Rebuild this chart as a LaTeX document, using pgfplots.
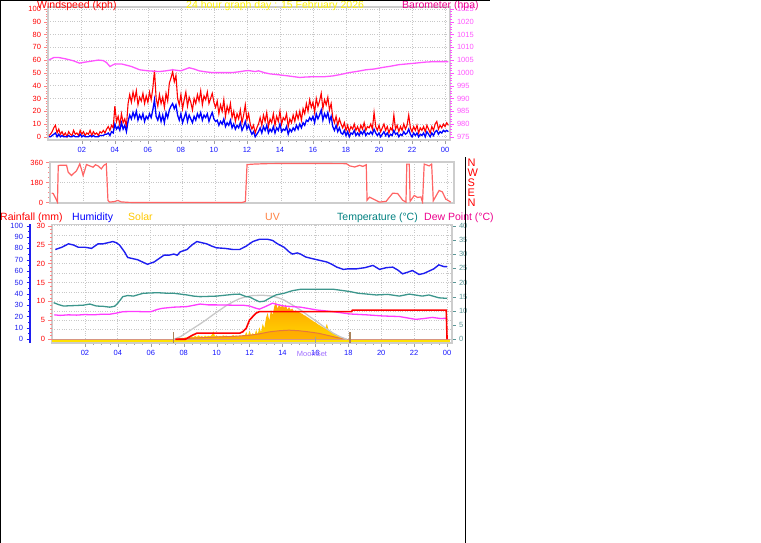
\documentclass[border=0pt]{standalone}
\usepackage{fontspec}
\setmainfont{Liberation Sans}
\usepackage{pgfplots}
\usepackage{pgfplotstable}
\pgfplotsset{compat=1.18}

\definecolor{framegray}{RGB}{205,205,205}
\definecolor{gridgray}{RGB}{200,200,200}
\definecolor{axisgray}{RGB}{160,160,160}
\definecolor{baro}{RGB}{255,85,255}
\definecolor{hourblue}{RGB}{20,20,255}
\definecolor{dirred}{RGB}{255,100,100}
\definecolor{salmon}{RGB}{255,130,130}
\definecolor{tealline}{RGB}{60,150,140}
\definecolor{teallabel}{RGB}{0,128,128}
\definecolor{tempaxis}{RGB}{90,150,150}
\definecolor{dewmag}{RGB}{255,60,255}
\definecolor{humblue}{RGB}{30,30,240}
\definecolor{solarmax}{RGB}{200,200,200}
\definecolor{solartop}{RGB}{255,160,0}
\definecolor{solarbot}{RGB}{255,215,0}
\definecolor{uvline}{RGB}{230,120,60}
\definecolor{uvlabel}{RGB}{255,128,64}
\definecolor{solarlabel}{RGB}{255,200,0}
\definecolor{sunmark}{RGB}{170,130,90}
\definecolor{zeroband}{RGB}{215,150,130}
\definecolor{yellowband}{RGB}{255,225,0}
\definecolor{moonviolet}{RGB}{160,110,255}

\newcommand\tickfont{\fontsize{7.5}{8}\selectfont}
\newcommand\headfont{\fontsize{10.5}{12}\selectfont}

\pgfplotsset{
  every axis/.append style={
    scale only axis,
    /pgf/number format/assume math mode=true,
    /pgf/number format/1000 sep={},
    tick label style={font=\tickfont},
    tick align=outside,
    major tick length=3.5pt,
    minor tick length=2pt,
  },
}

\pgfplotstableread{
h r b
0.0 1 0
0.1 2 0
0.2 4 1
0.3 7 2
0.4 9 3
0.5 3 0
0.6 6 2
0.7 2 0
0.8 4 1
0.9 1 0
1.0 3 0
1.1 0 0
1.2 4 1
1.3 2 0
1.4 1 0
1.5 5 1
1.6 2 0
1.7 3 0
1.8 1 0
1.9 5 2
2.0 2 0
2.1 4 1
2.2 1 0
2.3 3 0
2.4 2 0
2.5 5 1
2.6 1 0
2.7 4 1
2.8 2 0
2.9 3 0
3.0 1 0
3.1 4 1
3.2 3 1
3.3 5 1
3.4 3 2
3.5 6 2
3.6 8 3
3.7 5 1
3.8 9 4
3.9 7 3
4.0 24 10
4.1 12 6
4.2 16 8
4.3 9 5
4.4 18 11
4.5 11 6
4.6 14 9
4.7 8 4
4.8 26 12
4.9 33 17
5.0 27 14
5.1 35 19
5.2 29 15
5.3 36 20
5.4 25 13
5.5 31 17
5.6 28 14
5.7 34 18
5.8 26 12
5.9 32 16
6.0 27 14
6.1 35 18
6.2 29 15
6.3 38 21
6.4 52 29
6.5 30 16
6.6 24 13
6.7 33 18
6.8 26 12
6.9 31 17
7.0 23 11
7.1 34 19
7.2 28 15
7.3 42 21
7.4 46 24
7.5 51 26
7.6 43 22
7.7 48 25
7.8 30 17
7.9 25 13
8.0 33 18
8.1 22 11
8.2 29 15
8.3 35 19
8.4 24 12
8.5 31 17
8.6 27 14
8.7 21 11
8.8 30 16
8.9 26 13
9.0 33 18
9.1 28 15
9.2 36 19
9.3 25 13
9.4 32 17
9.5 29 15
9.6 35 18
9.7 26 12
9.8 30 16
9.9 34 19
10.0 27 14
10.1 23 12
10.2 28 13
10.3 18 9
10.4 25 12
10.5 20 10
10.6 29 14
10.7 16 8
10.8 24 11
10.9 19 9
11.0 26 13
11.1 15 7
11.2 20 10
11.3 12 6
11.4 18 9
11.5 14 7
11.6 21 11
11.7 11 5
11.8 17 8
11.9 25 12
12.0 13 6
12.1 18 9
12.2 10 5
12.3 6 2
12.4 9 4
12.5 3 0
12.6 7 2
12.7 10 4
12.8 15 7
12.9 9 3
13.0 17 8
13.1 12 5
13.2 19 9
13.3 8 3
13.4 14 6
13.5 11 4
13.6 18 8
13.7 9 3
13.8 16 7
13.9 12 5
14.0 20 10
14.1 10 4
14.2 15 6
14.3 13 5
14.4 18 8
14.5 8 2
14.6 14 6
14.7 11 4
14.8 17 7
14.9 12 5
15.0 19 9
15.1 14 6
15.2 20 10
15.3 13 7
15.4 22 11
15.5 18 9
15.6 26 13
15.7 20 12
15.8 29 15
15.9 23 13
16.0 27 16
16.1 19 11
16.2 30 18
16.3 24 14
16.4 28 17
16.5 34 21
16.6 22 13
16.7 29 18
16.8 25 15
16.9 31 19
17.0 21 12
17.1 26 16
17.2 15 8
17.3 11 5
17.4 16 9
17.5 9 4
17.6 14 7
17.7 10 3
17.8 7 2
17.9 11 5
18.0 5 1
18.1 9 4
18.2 4 0
18.3 8 3
18.4 6 2
18.5 10 5
18.6 5 1
18.7 8 3
18.8 4 1
18.9 9 4
19.0 6 2
19.1 11 5
19.2 5 1
19.3 8 3
19.4 7 2
19.5 10 4
19.6 6 2
19.7 19 6
19.8 8 3
19.9 5 1
20.0 9 3
20.1 4 0
20.2 7 2
20.3 10 4
20.4 5 1
20.5 8 3
20.6 3 0
20.7 7 2
20.8 5 1
20.9 17 5
21.0 6 2
21.1 9 3
21.2 4 0
21.3 8 2
21.4 5 1
21.5 10 4
21.6 6 2
21.7 9 3
21.8 17 6
21.9 7 2
22.0 4 0
22.1 8 3
22.2 5 1
22.3 9 3
22.4 3 0
22.5 7 2
22.6 5 1
22.7 8 3
22.8 4 0
22.9 9 4
23.0 6 2
23.1 3 0
23.2 8 3
23.3 5 1
23.4 10 4
23.5 12 5
23.6 6 2
23.7 9 4
23.8 7 3
23.9 10 5
24.0 8 4
24.1 11 5
24.2 9 4
}\windtable

\pgfplotstableread{
h s
7.5 0
7.6 0.2
7.7 0.4
7.8 0.3
7.9 0.5
8.0 0.4
8.1 0.7
8.2 0.5
8.3 0.8
8.4 0.6
8.5 1.0
8.6 0.7
8.7 1.2
8.8 0.8
8.9 1.4
9.0 0.9
9.1 1.1
9.2 0.8
9.3 1.3
9.4 0.9
9.5 1.2
9.6 1.0
9.7 1.5
9.8 2.8
9.9 1.1
10.0 1.3
10.1 0.9
10.2 1.2
10.3 1.0
10.4 1.4
10.5 1.1
10.6 1.3
10.7 0.9
10.8 1.2
10.9 1.0
11.0 1.5
11.1 1.1
11.2 1.3
11.3 0.9
11.4 1.2
11.5 1.0
11.6 1.4
11.7 1.1
11.8 2.6
11.9 1.2
12.0 3.0
12.1 1.4
12.2 2.2
12.3 1.3
12.4 3.3
12.5 1.8
12.6 4.2
12.7 2.5
12.8 5.5
12.9 3.8
13.0 7.5
13.1 9.3
13.2 6.5
13.3 10.3
13.4 8.5
13.5 11.5
13.6 13.2
13.7 10.8
13.8 12.4
13.9 11.2
14.0 12.0
14.1 11.0
14.2 12.2
14.3 10.5
14.4 11.3
14.5 10.4
14.6 10.8
14.7 9.8
14.8 10.2
14.9 9.6
15.0 9.6
15.1 9.2
15.2 9.0
15.3 8.5
15.4 8.3
15.5 7.8
15.6 7.5
15.7 7.0
15.8 6.7
15.9 6.2
16.0 6.0
16.1 5.5
16.2 5.1
16.3 4.8
16.4 4.4
16.5 4.1
16.6 3.7
16.7 5.5
16.8 3.2
16.9 2.9
17.0 2.4
17.1 2.0
17.2 1.7
17.3 1.4
17.4 1.1
17.5 0.8
17.6 0.6
17.7 0.4
17.8 0.2
17.9 0
}\solartable

\begin{document}
\begin{tikzpicture}[x=1pt,y=1pt]
\useasboundingbox (0,0) rectangle (761,-543);

%================ TOP PANEL: wind speed ================
\begin{axis}[
  at={(48pt,-140pt)}, anchor=south west, width=402pt, height=133pt,
  xmin=-0.05, xmax=24.3, ymin=-2.5, ymax=101.5,
  axis line style={draw=framegray, line width=1.5pt},
  xtick={2,4,...,24}, xticklabels={02,04,06,08,10,12,14,16,18,20,22,00},
  minor x tick num=3,
  ytick={0,10,...,100}, minor y tick num=4,
  xtick pos=bottom, ytick pos=left,
  xticklabel style={text=hourblue},
  yticklabel style={text=red},
  xtick style={draw=axisgray},
  ytick style={draw=salmon},
  grid=major, grid style={dotted, draw=gridgray, line width=0.7pt},
]
\addplot[red, line width=1.1pt] table[x=h,y=r]{\windtable};
\addplot[blue, line width=1.3pt] table[x=h,y=b]{\windtable};
\end{axis}

\begin{axis}[
  at={(48pt,-140pt)}, anchor=south west, width=402pt, height=133pt,
  xmin=-0.05, xmax=24.3, ymin=973.75, ymax=1025.75,
  axis x line=none, axis y line*=right,
  y axis line style={draw=none},
  ytick={975,980,...,1025}, minor y tick num=4,
  yticklabel style={text=baro},
  ytick style={draw=baro},
]
\addplot[baro, line width=1.3pt] coordinates {
(0.0,1005.0)(0.3,1006.0)(0.6,1006.0)(1.0,1005.5)(1.5,1004.7)(1.85,1003.8)
(2.2,1004.2)(2.5,1004.5)(3.0,1005.0)(3.3,1004.8)(3.5,1004.0)(3.7,1002.5)
(4.0,1003.5)(4.4,1003.5)(4.7,1003.0)(5.0,1002.5)(5.5,1001.2)(6.0,1000.8)
(6.7,1000.5)(7.1,1000.8)(7.5,1001.2)(8.0,1000.8)(8.5,1002.0)(8.8,1001.5)
(9.1,1000.8)(9.5,1000.4)(9.9,1000.1)(10.5,1000.1)(11.1,1000.1)(11.5,1000.4)
(11.9,1000.8)(12.1,1000.9)(12.5,1000.5)(12.7,1000.8)(13.1,1000.0)(13.4,999.6)
(14.0,999.2)(14.5,998.8)(15.2,998.2)(15.6,998.4)(16.2,998.5)(16.7,998.5)
(17.2,998.8)(17.7,999.4)(18.2,1000.1)(18.7,1000.6)(19.2,1001.2)(19.7,1001.5)
(20.2,1002.1)(20.7,1002.6)(21.2,1003.2)(21.7,1003.5)(22.2,1003.8)(22.8,1004.2)
(23.4,1004.4)(24.0,1004.4)(24.2,1004.4)};
\end{axis}

%================ WIND DIRECTION PANEL ================
\begin{axis}[
  at={(50pt,-203pt)}, anchor=south west, width=404pt, height=41pt,
  xmin=0, xmax=24.4, ymin=-5, ymax=365,
  axis line style={draw=framegray, line width=1.5pt},
  xtick={2,4,...,24}, xticklabels={},
  major x tick style={draw=none}, 
  ytick={0,180,360}, minor y tick num=3,
  ytick pos=left,
  yticklabel style={text=red},
  ytick style={draw=salmon},
  grid=major, grid style={dotted, draw=gridgray, line width=0.7pt},
]
\addplot[dirred, line width=1.2pt] coordinates {
(0.1,84)(0.2,80)(0.45,3)(0.5,333)(0.6,335)(1.0,336)(1.1,273)(1.3,243)(1.45,265)
(1.6,285)(1.8,348)(1.9,300)(2.0,243)(2.1,290)(2.2,342)(2.4,330)(2.6,318)(2.75,340)
(2.9,330)(3.1,303)(3.25,335)(3.4,348)(3.5,18)(3.6,3)(3.9,8)(4.1,18)(4.3,5)(4.5,3)
(4.7,1)(5.0,0)(11.6,0)(11.8,8)(11.9,342)(12.3,346)(13,350)(15,352)(17.9,350)
(18.1,330)(18.4,320)(18.7,335)(18.9,325)(19.1,340)(19.15,20)(19.3,48)(19.6,25)
(19.9,3)(20.3,10)(20.7,84)(21.0,80)(21.3,20)(21.5,3)(21.55,346)(21.7,346)(21.75,10)
(22.0,63)(22.2,45)(22.4,50)(22.5,3)(22.6,346)(22.9,330)(23.05,346)(23.15,15)
(23.5,108)(23.7,95)(23.9,30)(24.05,18)(24.2,3)};
\end{axis}

\begin{axis}[
  at={(50pt,-203pt)}, anchor=south west, width=404pt, height=41pt,
  xmin=0, xmax=24.4, ymin=-5, ymax=365,
  axis x line=none, axis y line*=right,
  y axis line style={draw=none},
  ytick={0,90,180,270,360}, yticklabels={N,E,S,W,N},
  major tick length=0pt,
  yticklabel style={text=red, font=\fontsize{11}{11}\selectfont, xshift=10pt},
]
\addplot[draw=none] coordinates {(0,0)};
\end{axis}

%================ BOTTOM PANEL ================
\begin{axis}[
  at={(52pt,-343pt)}, anchor=south west, width=400pt, height=118.7pt,
  xmin=0, xmax=24.3, ymin=-1.32, ymax=40.48,
  axis line style={draw=framegray, line width=1.5pt},
  xtick={2,4,...,24}, xticklabels={02,04,06,08,10,12,14,16,18,20,22,00},
  minor x tick num=3,
  ytick={0,5,...,40},
  xtick pos=bottom, ytick pos=right,
  xticklabel style={text=hourblue},
  yticklabel style={text=tempaxis},
  xtick style={draw=axisgray},
  ytick style={draw=tempaxis},
  extra y ticks={0,3.333,6.667,10,13.333,16.667,20,23.333,26.667,30,33.333,36.667,40},
  extra y tick labels={},
  extra y tick style={grid=major, major tick length=0pt, tick style={draw=none}},
  xmajorgrids, grid style={dotted, draw=gridgray, line width=0.7pt},
]
\addplot[draw=none, top color=solartop, bottom color=solarbot] table[x=h,y=s]{\solartable} \closedcycle;
\addplot[draw=none, fill=solartop!85!red, fill opacity=0.45] coordinates {
(7.5,0)(8.5,0.4)(10,0.8)(11,1.0)(12,1.4)(12.6,1.9)(13.2,2.6)(13.8,3.0)(14.4,3.2)
(15,3.0)(15.6,2.6)(16.2,2.1)(16.8,1.3)(17.3,0.6)(17.9,0)} \closedcycle;
\addplot[uvline, line width=1pt] coordinates {
(7.5,0)(8.5,0.4)(10,0.8)(11,1.0)(12,1.4)(12.6,1.9)(13.2,2.6)(13.8,3.0)(14.4,3.2)
(15,3.0)(15.6,2.6)(16.2,2.1)(16.8,1.3)(17.3,0.6)(17.9,0)};
\addplot[yellowband, line width=2.5pt] coordinates {(0,-0.6)(24.2,-0.6)};
\addplot[zeroband, line width=1.5pt] coordinates {(0,0)(24.2,0)};
\addplot[solarmax, line width=1.3pt] coordinates {
(7.4,0)(7.8,0.9)(8.2,2.4)(8.6,3.9)(9.0,5.4)(9.4,7.0)(9.8,8.7)(10.2,10.3)(10.6,11.9)
(11.0,13.2)(11.4,14.3)(11.8,15.0)(12.2,15.4)(12.8,15.5)(13.4,15.2)(13.8,14.5)
(14.1,13.8)(14.6,12.1)(15.1,10.3)(15.6,8.2)(16.1,6.2)(16.6,4.0)(17.1,2.1)(17.5,0.9)(17.9,0)};
\addplot[sunmark, line width=1.2pt] coordinates {(7.4,-1.3)(7.4,2.6)};
\addplot[sunmark, line width=1.2pt] coordinates {(18.1,-1.3)(18.1,2.6)};
\addplot[axisgray, line width=1pt] coordinates {(16.0,-1.3)(16.0,0.8)};
\addplot[tealline, line width=1.3pt] coordinates {
(0.1,12.9)(0.4,12.2)(0.7,11.7)(1.1,11.8)(1.5,11.9)(1.9,12.0)(2.3,12.4)(2.7,11.7)
(3.1,11.6)(3.5,11.3)(3.8,11.6)(4.0,12.7)(4.3,15.0)(4.6,15.4)(4.95,15.2)(5.3,15.8)
(5.55,16.2)(6.0,16.3)(6.4,16.4)(7.0,16.2)(7.4,16.2)(7.8,15.9)(8.2,15.6)(8.6,15.2)
(9.0,15.0)(9.5,15.1)(10.0,15.2)(10.5,15.5)(11.0,15.8)(11.4,15.9)(11.8,15.0)(12.0,14.9)
(12.3,14.0)(12.6,13.2)(12.9,13.4)(13.2,14.4)(13.6,15.6)(14.1,16.2)(14.6,17.1)(15.1,17.6)
(16.1,17.6)(17.1,17.6)(18.1,16.8)(18.6,16.2)(19.7,15.6)(20.4,15.8)(21.1,15.2)(21.7,15.9)
(22.5,15.2)(22.9,15.6)(23.5,14.6)(24.0,14.4)};
\addplot[dewmag, line width=1.3pt] coordinates {
(0.14,8.6)(0.5,8.4)(1.0,8.6)(1.5,8.5)(2.0,8.7)(2.5,8.6)(3.0,8.8)(3.5,8.8)(3.9,9.2)
(4.3,9.7)(5.0,9.8)(5.5,9.7)(6.0,9.7)(6.4,10.5)(6.7,10.9)(7.4,11.3)(8.2,11.5)(9.0,12.4)
(9.5,12.1)(10.0,12.1)(11.0,12.0)(11.6,12.0)(12.0,11.7)(12.4,10.9)(12.6,10.6)(13.0,11.6)
(13.4,12.7)(13.7,12.2)(14.1,11.7)(15.1,11.3)(16.1,10.3)(17.1,9.7)(18.1,8.9)(19.1,8.6)
(20.1,8.2)(21.1,8.0)(22.1,7.0)(22.6,7.3)(23.1,7.7)(23.6,7.3)(24.0,7.4)};
\end{axis}

\begin{axis}[
  at={(52pt,-343pt)}, anchor=south west, width=400pt, height=118.7pt,
  xmin=0, xmax=24.3, ymin=-0.99, ymax=30.36,
  axis x line=none, axis y line*=left,
  y axis line style={draw=none},
  ytick={0,5,...,30}, minor y tick num=4,
  yticklabel style={text=red},
  ytick style={draw=salmon},
]
\addplot[red, line width=1.6pt] coordinates {
(7.5,0)(8.1,0)(8.5,1.0)(8.8,1.6)(11.4,1.6)(11.6,2.0)(11.8,2.9)(12.0,5.1)(12.4,6.9)
(12.6,7.3)(18.2,7.3)(18.25,7.7)(23.95,7.7)(24.0,0)};
\end{axis}

\begin{axis}[
  at={(52pt,-343pt)}, anchor=south west, width=400pt, height=118.7pt,
  xmin=0, xmax=24.3, ymin=-3.3, ymax=101.2,
  axis lines=none,
]
\addplot[humblue, line width=1.4pt] coordinates {
(0.2,79)(0.6,81)(1.0,84)(1.3,83)(1.6,81)(2.0,81)(2.4,80)(2.8,84)(3.1,84)(3.4,85)
(3.7,86)(3.9,85)(4.1,83)(4.4,77)(4.6,72)(4.9,71)(5.2,70)(5.5,68)(5.8,66)(6.0,67)
(6.2,68)(6.5,71)(6.8,74)(7.1,74)(7.4,75)(7.6,74)(7.8,77)(8.2,79)(8.5,83)(8.8,86)
(9.1,85)(9.4,84)(9.7,82)(10.0,80.5)(10.5,80)(11.0,79)(11.4,79)(11.8,82)(12.2,86)
(12.6,88)(13.1,88)(13.4,87)(13.7,84)(14.1,81)(14.4,77)(14.6,75)(14.9,76)(15.1,75)
(15.4,72.5)(15.8,71)(16.1,70)(16.4,69)(16.7,68)(17.0,66)(17.3,63.5)(17.7,61.5)
(18.0,62)(18.5,62)(19.0,63)(19.5,65)(19.9,61.5)(20.3,63)(20.7,63.5)(21.0,61)
(21.3,57.6)(21.6,59)(21.9,60.5)(22.3,57)(22.6,58)(22.9,60)(23.2,62)(23.5,65.5)
(23.8,64)(24.0,64)};
\end{axis}

\begin{axis}[
  at={(30pt,-343pt)}, anchor=south west, width=1pt, height=118.7pt,
  xmin=0, xmax=1, ymin=-3.3, ymax=101.2,
  axis x line=none, axis y line*=left,
  y axis line style={draw=humblue, line width=2.5pt},
  ytick={0,10,...,100}, minor y tick num=1,
  yticklabel style={text=humblue},
  ytick style={draw=humblue},
]
\addplot[draw=none] coordinates {(0,0)};
\end{axis}

%================ TEXTS ================
\node[anchor=base west, text=red, font=\headfont, inner sep=0] at (37,-8.5) {Windspeed (kph)};
\node[anchor=base west, text=yellow, font=\headfont, inner sep=0] at (186,-8.5) {24 hour graph day : 15 February 2026};
\node[anchor=base west, text=magenta, font=\headfont, inner sep=0] at (402,-8.5) {Barometer (hpa)};

\node[anchor=base west, text=red, font=\headfont, inner sep=0] at (0,-220.5) {Rainfall (mm)};
\node[anchor=base west, text=blue, font=\headfont, inner sep=0] at (72,-220.5) {Humidity};
\node[anchor=base west, text=solarlabel, font=\headfont, inner sep=0] at (128,-220.5) {Solar};
\node[anchor=base west, text=uvlabel, font=\headfont, inner sep=0] at (265,-220.5) {UV};
\node[anchor=base west, text=teallabel, font=\headfont, inner sep=0] at (337,-220.5) {Temperature (°C)};
\node[anchor=base west, text=magenta, font=\headfont, inner sep=0] at (424,-220.5) {Dew Point (°C)};

\node[anchor=base, text=moonviolet, font=\tickfont, inner sep=0] at (312,-356.5) {MoonSet};

%================ OUTER FRAME ================
\draw[black, line width=1pt] (0.5,0) -- (0.5,-543);
\draw[black, line width=1pt] (0,-0.5) -- (490,-0.5);
\draw[black, line width=1pt] (465,-157) -- (465,-543);
\end{tikzpicture}
\end{document}
